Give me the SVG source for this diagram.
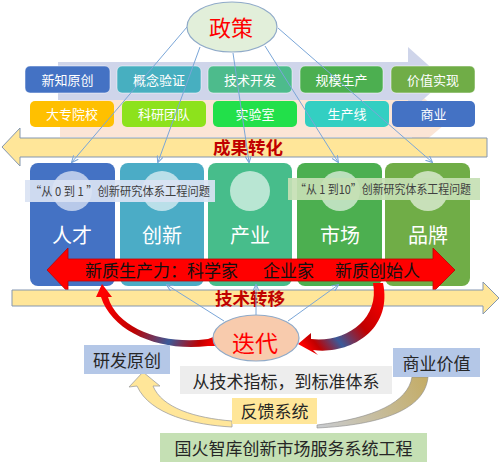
<svg xmlns="http://www.w3.org/2000/svg" width="500" height="469" viewBox="0 0 500 469">
<style>
.cn{font-family:"Noto Sans CJK SC","Noto Sans",sans-serif;}
.bw{fill:#fff;font-size:13px;text-anchor:middle;}
.cw{fill:#fff;font-size:20px;text-anchor:middle;}
.dk{fill:#262626;font-size:17px;}
.sm{fill:#404040;font-size:12px;}
.rb{fill:#c00000;font-size:17.5px;font-weight:bold;text-anchor:middle;}
.ln{stroke:#7aa6d8;stroke-width:1;fill:none;}
.circ{fill:#fff;fill-opacity:0.62;}
</style>
<defs>
<marker id="ah" viewBox="0 0 8 8" refX="7" refY="4" markerWidth="7" markerHeight="7" orient="auto" markerUnits="userSpaceOnUse">
<path d="M0,0.5 L8,4 L0,7.5" fill="none" stroke="#7aa6d8" stroke-width="1.2"/>
</marker>
<linearGradient id="gl" gradientUnits="userSpaceOnUse" x1="105" y1="290" x2="216" y2="342">
<stop offset="0" stop-color="#ff0000"/><stop offset="0.35" stop-color="#c00000"/><stop offset="0.65" stop-color="#3a5a9a"/><stop offset="0.88" stop-color="#c00000"/><stop offset="1" stop-color="#ff0000"/>
</linearGradient>
<linearGradient id="gr" gradientUnits="userSpaceOnUse" x1="380" y1="285" x2="302" y2="345">
<stop offset="0" stop-color="#ff0000"/><stop offset="0.4" stop-color="#c00000"/><stop offset="0.68" stop-color="#3a5a9a"/><stop offset="0.88" stop-color="#c00000"/><stop offset="1" stop-color="#ff0000"/>
</linearGradient>
<linearGradient id="gt" gradientUnits="userSpaceOnUse" x1="425" y1="380" x2="317" y2="428">
<stop offset="0" stop-color="#c4ad68"/><stop offset="1" stop-color="#c9ccd2"/>
</linearGradient>
</defs>

<!-- background arrows -->
<polygon points="60,100 412,100 412,88 450,120 412,152 412,137 60,137" fill="#fbe5d6"/>
<polygon points="58,62 408,62 408,47 445,80 408,113 408,100 58,100" fill="#cfd5ea"/>

<g id="row1">
<rect x="25" y="66" width="85" height="27" rx="5" fill="#4472c4" stroke="#fff" stroke-opacity="0.5"/>
<text class="cn bw" x="67.5" y="84.5">新知原创</text>
<rect x="117" y="66" width="84" height="27" rx="5" fill="#47afc0" stroke="#fff" stroke-opacity="0.5"/>
<text class="cn bw" x="159" y="84.5">概念验证</text>
<rect x="208" y="66" width="84" height="27" rx="5" fill="#4dbb8c" stroke="#fff" stroke-opacity="0.5"/>
<text class="cn bw" x="250" y="84.5">技术开发</text>
<rect x="300" y="66" width="83" height="27" rx="5" fill="#4caf50" stroke="#fff" stroke-opacity="0.5"/>
<text class="cn bw" x="341.5" y="84.5">规模生产</text>
<rect x="391" y="66" width="84" height="27" rx="5" fill="#70ad47" stroke="#fff" stroke-opacity="0.5"/>
<text class="cn bw" x="433" y="84.5">价值实现</text>
</g>
<g id="row2">
<rect x="30" y="101" width="84" height="26" rx="5" fill="#ffc000"/>
<text class="cn bw" x="72" y="119">大专院校</text>
<rect x="122" y="101" width="84" height="26" rx="5" fill="#8de21c"/>
<text class="cn bw" x="164" y="119">科研团队</text>
<rect x="213" y="101" width="84" height="26" rx="5" fill="#22e04a"/>
<text class="cn bw" x="255" y="119">实验室</text>
<rect x="305" y="101" width="84" height="26" rx="5" fill="#33cfc2"/>
<text class="cn bw" x="347" y="119">生产线</text>
<rect x="392" y="101" width="83" height="26" rx="5" fill="#4472c4"/>
<text class="cn bw" x="433.5" y="119">商业</text>
</g>

<g id="chengguo">
<polygon points="2,147 20,128 20,138 487,138 487,157 20,157 20,166" fill="#ffe699" stroke="#8497b0" stroke-width="1"/>
<text class="cn rb" x="248" y="154">成果转化</text>
</g>

<g id="columns">
<rect x="30" y="163" width="85" height="123" rx="8" fill="#4472c4"/>
<rect x="120" y="163" width="84" height="123" rx="8" fill="#4bacc6"/>
<rect x="208" y="163" width="84" height="123" rx="8" fill="#47bd8b"/>
<rect x="297" y="163" width="85" height="123" rx="8" fill="#4caf50"/>
<rect x="385" y="163" width="85" height="123" rx="8" fill="#70ad47"/>
<circle class="circ" cx="72" cy="191" r="20"/>
<circle class="circ" cx="162" cy="191" r="20"/>
<circle class="circ" cx="250" cy="191" r="20"/>
<circle class="circ" cx="340" cy="191" r="20"/>
<circle class="circ" cx="428" cy="191" r="20"/>
<text class="cn cw" x="72" y="243">人才</text>
<text class="cn cw" x="162" y="243">创新</text>
<text class="cn cw" x="250" y="243">产业</text>
<text class="cn cw" x="340" y="243">市场</text>
<text class="cn cw" x="428" y="243">品牌</text>
</g>

<g id="note1">
<rect x="25" y="180" width="190" height="22" fill="#dae3f3" fill-opacity="0.92"/>
<text class="cn sm" x="30" y="196" textLength="180" lengthAdjust="spacingAndGlyphs">“从 0 到 1 ”创新研究体系工程问题</text>
</g>
<g id="note2">
<rect x="288" y="178" width="192" height="22" fill="#c5e0b4" fill-opacity="0.92"/>
<text class="cn sm" x="295" y="194" textLength="176" lengthAdjust="spacingAndGlyphs">“从 1 到10”创新研究体系工程问题</text>
</g>

<g id="xinzhi">
<polygon points="47,270 68,248 68,259 433,259 433,248 455,270 433,292 433,281 68,281 68,292" fill="#ff0000" stroke="#c00000" stroke-width="0.8"/>
<text class="cn" x="85" y="277" font-size="17" fill="#111">新质生产力：科学家</text>
<text class="cn" x="263" y="277" font-size="17" fill="#111">企业家</text>
<text class="cn" x="335" y="277" font-size="17" fill="#111">新质创始人</text>
</g>

<g id="jishu">
<polygon points="12,290 483,290 483,282 499,298 483,314 483,306 12,306" fill="#ffe699" stroke="#8497b0" stroke-width="1"/>
<text class="cn rb" x="250" y="305">技术转移</text>
</g>

<g id="connectors">
<line class="ln" x1="187" y1="27" x2="72" y2="162" marker-end="url(#ah)"/>
<line class="ln" x1="200" y1="47" x2="158" y2="162" marker-end="url(#ah)"/>
<line class="ln" x1="233" y1="53" x2="249" y2="162" marker-end="url(#ah)"/>
<line class="ln" x1="265" y1="46" x2="338" y2="162" marker-end="url(#ah)"/>
<line class="ln" x1="278" y1="28" x2="432" y2="162" marker-end="url(#ah)"/>
<line class="ln" x1="224" y1="321" x2="167" y2="285" marker-end="url(#ah)"/>
<line class="ln" x1="256" y1="315" x2="256" y2="285" marker-end="url(#ah)"/>
<line class="ln" x1="288" y1="321" x2="338" y2="285" marker-end="url(#ah)"/>
<path d="M102,284 L112,297 L108,297 C118,330 165,345 208,339 L216,336 L217,346 L208,346 C160,352 112,332 101,297 L96,297 Z" fill="url(#gl)"/>
<path d="M298,344 L311,333 L311,339 C345,343 380,320 373,283 L383,283 C393,330 350,355 313,350 L318,355 Z" fill="url(#gr)"/>
<path d="M143,372 L160,386 L153,386 C162,408 195,418 232,421 L232,427 C195,425 150,415 137,386 L129,387 Z" fill="#ffe699" stroke="#a0a0a0" stroke-width="0.8"/>
<path d="M412,377 L428,377 C425,410 380,425 317,428 L317,425 C375,418 408,402 412,377 Z" fill="url(#gt)" stroke="#8a8a8a" stroke-width="0.6"/>
</g>

<g id="zhengce">
<ellipse cx="232" cy="27" rx="45" ry="25" fill="#e2efda" stroke="#8faac8" stroke-width="1.2"/>
<text class="cn" x="231" y="36" font-size="22" fill="#ff0000" text-anchor="middle">政策</text>
</g>

<g id="diedai">
<ellipse cx="256" cy="338" rx="43" ry="23" fill="#f8cbad" stroke="#8faac8" stroke-width="1.2"/>
<text class="cn" x="255" y="352" font-size="23" fill="#ff0000" text-anchor="middle">迭代</text>
</g>

<g id="yanfa">
<rect x="84" y="345" width="86" height="29" fill="#b4c7e7"/>
<text class="cn dk" x="127" y="366.5" text-anchor="middle">研发原创</text>
</g>
<g id="shangye">
<rect x="393" y="348" width="87" height="29" fill="#b4c7e7"/>
<text class="cn dk" x="436.5" y="369.5" text-anchor="middle">商业价值</text>
</g>
<g id="biaozhun">
<rect x="180" y="366" width="212" height="28" fill="#ededed"/>
<text class="cn dk" x="286" y="387.5" text-anchor="middle">从技术指标，到标准体系</text>
</g>
<g id="fankui">
<rect x="232" y="398" width="85" height="26" fill="#ffe699"/>
<text class="cn dk" x="274.5" y="417.5" text-anchor="middle">反馈系统</text>
</g>
<g id="guohuo">
<rect x="160" y="433" width="267" height="29" fill="#c5e0b4"/>
<text class="cn dk" x="293.5" y="454.5" text-anchor="middle">国火智库创新市场服务系统工程</text>
</g>
</svg>
